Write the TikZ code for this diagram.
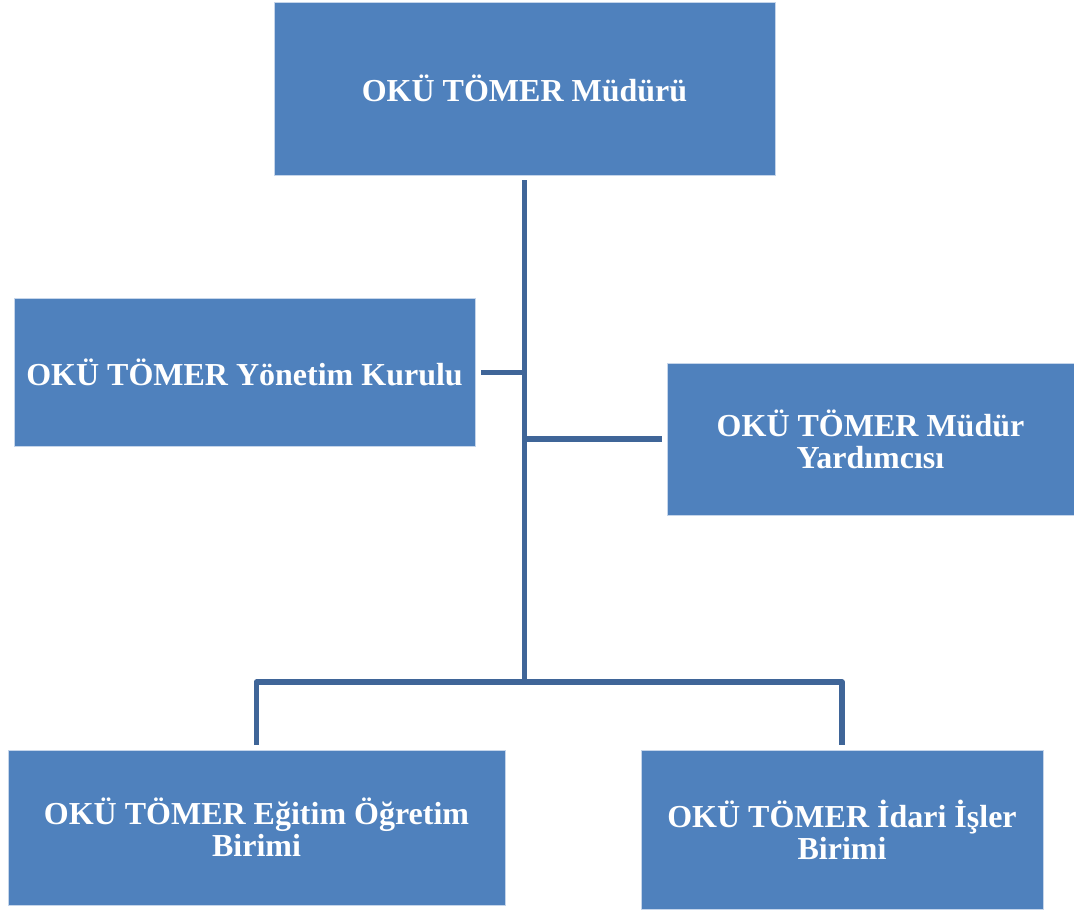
\documentclass[tikz,border=0pt]{standalone}
\usepackage{fontspec}
\setmainfont{Liberation Serif}
\definecolor{boxblue}{HTML}{4F81BD}
\definecolor{lineblue}{HTML}{3F6598}
\definecolor{edgeblue}{HTML}{C5D5EA}
\begin{document}
\begin{tikzpicture}[x=1pt,y=-1pt,
  orgbox/.style={rectangle, fill=boxblue, draw=edgeblue, line width=0.7pt,
    inner sep=0pt, text=white, align=center,
    font=\fontsize{32}{32}\selectfont\bfseries},
  conn/.style={draw=lineblue, line width=5.5pt, line join=round}]
\fill[white] (0,0) rectangle (1074,911);
\useasboundingbox (0,0) rectangle (1074,911);

\node[orgbox, minimum width=501pt, minimum height=173pt] (top) at (524.5,88.5) {OKÜ TÖMER Müdürü};
\node[orgbox, minimum width=461pt, minimum height=148pt] (left) at (244.5,372.5) {OKÜ TÖMER Yönetim Kurulu};
\node[orgbox, minimum width=407pt, minimum height=152pt] (right) at (870.5,439) {OKÜ TÖMER Müdür\\Yardımcısı};
\node[orgbox, minimum width=497pt, minimum height=155pt] (bl) at (256.5,827.5) {OKÜ TÖMER Eğitim Öğretim\\Birimi};
\node[orgbox, minimum width=402pt, minimum height=159pt] (br) at (842,829.5) {OKÜ TÖMER İdari İşler\\Birimi};

\coordinate (j) at (524.5,682);
\draw[conn] ([yshift=-5pt]top.south) -- (j);
\draw[conn] ([xshift=6pt]left.east) -- (left.east -| j);
\draw[conn] (right.west -| j) -- ([xshift=-5pt]right.west);
\draw[conn] ([yshift=5pt]bl.north) |- (j) -| ([yshift=5pt]br.north);
\end{tikzpicture}
\end{document}
